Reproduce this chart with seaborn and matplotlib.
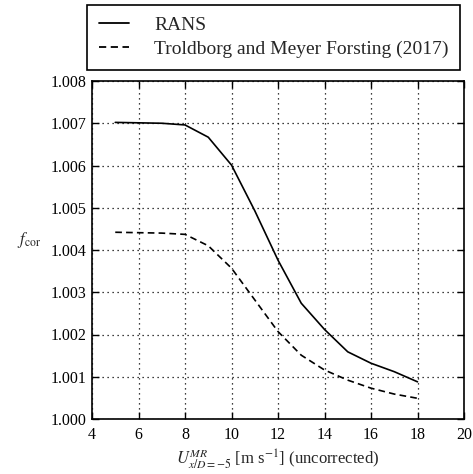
import matplotlib
matplotlib.use("Agg")
import matplotlib.pyplot as plt
import seaborn as sns
import pandas as pd

# Wind speed (uncorrected) and correction factor curves
wind_speed = [5, 6, 7, 8, 9, 10, 11, 12, 13, 14, 15, 16, 17, 18]
f_rans = [1.00702, 1.00701, 1.00700, 1.00696, 1.00667, 1.00601, 1.00493,
          1.00376, 1.00274, 1.00212, 1.00159, 1.00132, 1.00112, 1.00088]
f_troldborg = [1.00442, 1.00441, 1.00440, 1.00437, 1.00410, 1.00357, 1.00282,
               1.00207, 1.00151, 1.00116, 1.00092, 1.00073, 1.00059, 1.00049]
series_names = ["RANS", "Troldborg and Meyer Forsting (2017)"]

df = pd.DataFrame({
    "U": wind_speed * 2,
    "f": f_rans + f_troldborg,
    "series": [series_names[0]] * len(wind_speed) + [series_names[1]] * len(wind_speed),
})

sns.set_theme(style="ticks")
plt.rcParams["font.family"] = ["Liberation Serif", "DejaVu Serif"]
plt.rcParams["mathtext.fontset"] = "stix"

fig = plt.figure(figsize=(4.73, 4.74), dpi=100)
ax = fig.add_axes([92 / 473, 1 - 419 / 474, 372 / 473, 338 / 474])

sns.lineplot(data=df, x="U", y="f", style="series", color="black",
             dashes={series_names[0]: "", series_names[1]: (4, 2.5)},
             linewidth=1.2, ax=ax, legend=False)

ax.set_xlim(4, 20)
ax.set_ylim(1.000, 1.008)
ax.set_xticks(range(4, 21, 2))
ax.set_yticks([1.000 + 0.001 * i for i in range(9)])
ax.set_yticklabels([f"{1.000 + 0.001 * i:.3f}" for i in range(9)])
ax.grid(True, color="black", linestyle=(0, (1, 3)), linewidth=0.9)
ax.tick_params(direction="in", length=5, width=1, labelsize=11.5,
               top=True, right=True, colors="black")
ax.tick_params(axis="x", pad=6)
ax.tick_params(axis="y", pad=4)
for s in ax.spines.values():
    s.set_linewidth(1.2)
    s.set_color("black")

ax.set_xlabel(r"$U^{MR}_{x/D=-5}$ [m s$^{-1}$] (uncorrected)", fontsize=12, labelpad=3)
ax.set_ylabel(r"$f_{\rm cor}$", fontsize=12, rotation=0)
ax.yaxis.set_label_coords(-0.17, 0.5)

handles = [plt.Line2D([], [], color="black", lw=1.3),
           plt.Line2D([], [], color="black", lw=1.3, dashes=(4, 2.5))]
leg = fig.legend(handles, series_names, loc="lower left",
                 bbox_to_anchor=(87 / 473, 1 - 70 / 474), bbox_transform=fig.transFigure,
                 fontsize=14, frameon=True, fancybox=False, borderaxespad=0,
                 borderpad=0.6, handlelength=1.55, handletextpad=1.3,
                 labelspacing=0.35, edgecolor="black", framealpha=1)
leg.get_frame().set_linewidth(1.2)

fig.savefig("out.png", dpi=100)
